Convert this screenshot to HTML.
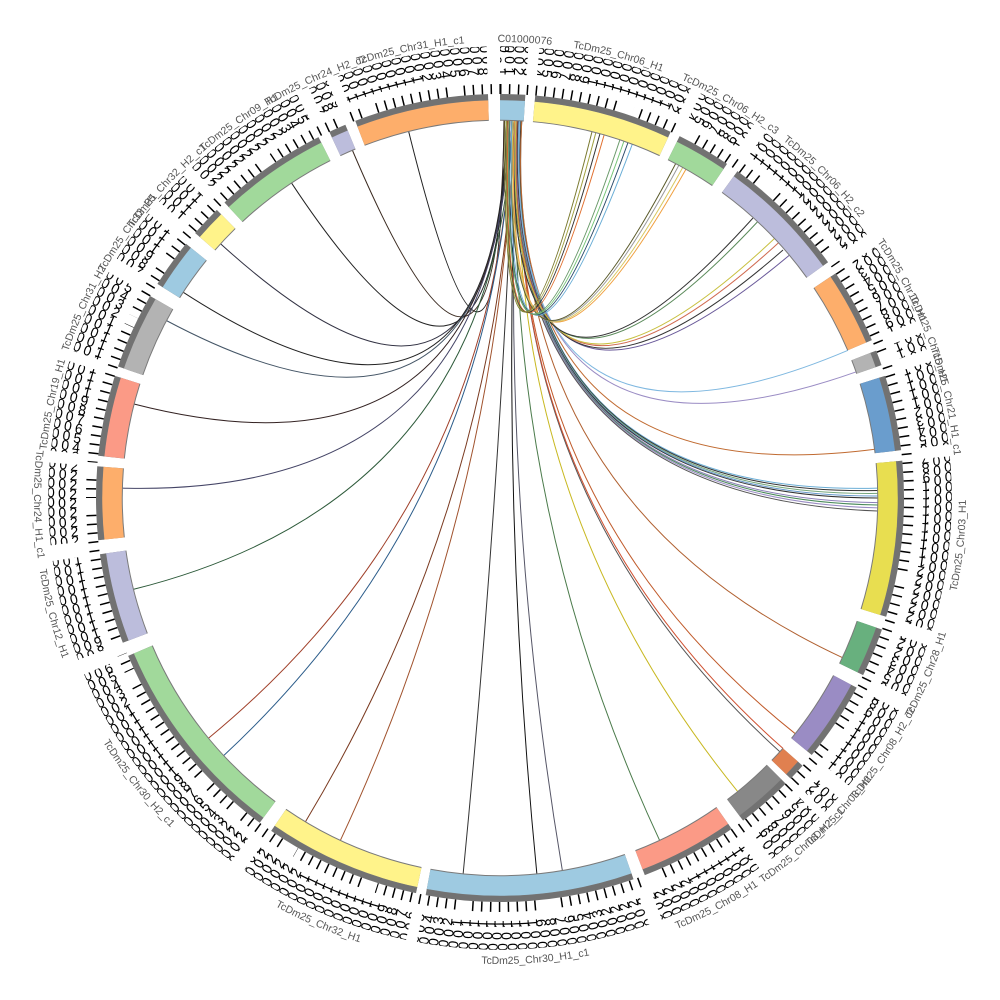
<!DOCTYPE html>
<html><head><meta charset="utf-8"><style>
html,body{margin:0;padding:0;background:#fff;width:1000px;height:1000px;overflow:hidden;}
svg{display:block;overflow:hidden;}
.n{font-family:"Liberation Sans",sans-serif;font-size:14px;fill:#000;}
.lb{font-family:"Liberation Sans",sans-serif;font-size:10.5px;fill:#555;}
.lk path{stroke-width:1px !important;}
</style></head><body>
<svg width="1000" height="1000" viewBox="0 0 1000 1000" xmlns="http://www.w3.org/2000/svg">
<defs>
<g id="arcs" fill="none">
<circle id="a1" fill="none" cx="500" cy="498" r="388" stroke-dasharray="24.4 3000" transform="rotate(-90 500 498)"/>
<circle id="a2" fill="none" cx="500" cy="498" r="388" stroke-dasharray="135.4 3000" transform="rotate(-85 500 498)"/>
<circle id="a3" fill="none" cx="500" cy="498" r="388" stroke-dasharray="52.8 3000" transform="rotate(-63.6 500 498)"/>
<circle id="a4" fill="none" cx="500" cy="498" r="388" stroke-dasharray="123.9 3000" transform="rotate(-54 500 498)"/>
<circle id="a5" fill="none" cx="500" cy="498" r="388" stroke-dasharray="73.1 3000" transform="rotate(-33.8 500 498)"/>
<circle id="a6" fill="none" cx="500" cy="498" r="388" stroke-dasharray="14.9 3000" transform="rotate(-21.4 500 498)"/>
<circle id="a7" fill="none" cx="500" cy="498" r="388" stroke-dasharray="73.1 3000" transform="rotate(-17.6 500 498)"/>
<circle id="a8" fill="none" cx="500" cy="498" r="388" stroke-dasharray="151.7 3000" transform="rotate(-5.3 500 498)"/>
<circle id="a9" fill="none" cx="500" cy="498" r="388" stroke-dasharray="47.4 3000" transform="rotate(19 500 498)"/>
<circle id="a10" fill="none" cx="500" cy="498" r="388" stroke-dasharray="77.9 3000" transform="rotate(28 500 498)"/>
<circle id="a11" fill="none" cx="500" cy="498" r="388" stroke-dasharray="16.9 3000" transform="rotate(41.5 500 498)"/>
<circle id="a12" fill="none" cx="500" cy="498" r="388" stroke-dasharray="54.2 3000" transform="rotate(45 500 498)"/>
<circle id="a13" fill="none" cx="500" cy="498" r="388" stroke-dasharray="94.8 3000" transform="rotate(55 500 498)"/>
<circle id="a14" fill="none" cx="500" cy="498" r="388" stroke-dasharray="202.5 3000" transform="rotate(70.7 500 498)"/>
<circle id="a15" fill="none" cx="500" cy="498" r="388" stroke-dasharray="152.4 3000" transform="rotate(102 500 498)"/>
<circle id="a16" fill="none" cx="500" cy="498" r="388" stroke-dasharray="206.5 3000" transform="rotate(126.5 500 498)"/>
<circle id="a17" fill="none" cx="500" cy="498" r="388" stroke-dasharray="88.0 3000" transform="rotate(159 500 498)"/>
<circle id="a18" fill="none" cx="500" cy="498" r="388" stroke-dasharray="71.1 3000" transform="rotate(174 500 498)"/>
<circle id="a19" fill="none" cx="500" cy="498" r="388" stroke-dasharray="78.6 3000" transform="rotate(186 500 498)"/>
<circle id="a20" fill="none" cx="500" cy="498" r="388" stroke-dasharray="74.5 3000" transform="rotate(199 500 498)"/>
<circle id="a21" fill="none" cx="500" cy="498" r="388" stroke-dasharray="47.4 3000" transform="rotate(212 500 498)"/>
<circle id="a22" fill="none" cx="500" cy="498" r="388" stroke-dasharray="30.5 3000" transform="rotate(221 500 498)"/>
<circle id="a23" fill="none" cx="500" cy="498" r="388" stroke-dasharray="110.4 3000" transform="rotate(227 500 498)"/>
<circle id="a24" fill="none" cx="500" cy="498" r="388" stroke-dasharray="16.9 3000" transform="rotate(245 500 498)"/>
<circle id="a25" fill="none" cx="500" cy="498" r="388" stroke-dasharray="130.7 3000" transform="rotate(249 500 498)"/>
</g>
<mask id="mt" maskUnits="userSpaceOnUse" x="0" y="0" width="1000" height="1000">
<use href="#arcs" fill="none" stroke="#fff" stroke-width="11" transform="translate(500 498) scale(1.0541) translate(-500 -498)"/>
</mask>
<mask id="mn" maskUnits="userSpaceOnUse" x="0" y="0" width="1000" height="1000">
<use href="#arcs" fill="none" stroke="#fff" stroke-width="28" transform="translate(500 498) scale(1.1237) translate(-500 -498)"/>
</mask>
<path id="cw" d="M500,42 A456,456 0 1,1 500,954 A456,456 0 1,1 500,42"/>
<path id="ccw" d="M500,32 A466,466 0 1,0 500,964 A466,466 0 1,0 500,32"/>
<path id="r1" d="M500,72 A426,426 0 1,1 500,924 A426,426 0 1,1 500,72"/>
<path id="r2" d="M500,61 A437,437 0 1,1 500,935 A437,437 0 1,1 500,61"/>
<path id="r3" d="M500,50 A448,448 0 1,1 500,946 A448,448 0 1,1 500,50"/>
</defs>

<!-- links -->
<g class="lk" fill="none" stroke-width="1">
<path d="M504,120 Q500,498 408.6,131.2" stroke="#222"/>
<path d="M504,120 Q500,498 352.3,150" stroke="#3a2a20"/>
<path d="M506.6,120.1 Q500,498 291.4,182.8" stroke="#222"/>
<path d="M506.6,120.1 Q500,498 220.4,243.6" stroke="#334"/>
<path d="M506.6,120.1 Q500,498 182.9,292.1" stroke="#222"/>
<path d="M509.2,120.1 Q500,498 166.3,320.5" stroke="#456"/>
<path d="M509.2,120.1 Q500,498 133.9,404" stroke="#322"/>
<path d="M509.2,120.1 Q500,498 122.1,488.1" stroke="#446"/>
<path d="M511.9,120.2 Q500,498 133.2,589.4" stroke="#2d5a3a"/>
<path d="M511.9,120.2 Q500,498 208.3,738.4" stroke="#a0402a"/>
<path d="M511.9,120.2 Q500,498 223.5,755.8" stroke="#2b5c8a"/>
<path d="M514.5,120.3 Q500,498 305.3,822" stroke="#7a3a20"/>
<path d="M514.5,120.3 Q500,498 340.3,840.6" stroke="#a0522d"/>
<path d="M514.5,120.3 Q500,498 463.1,874.2" stroke="#333"/>
<path d="M517.1,120.4 Q500,498 536.9,874.2" stroke="#111"/>
<path d="M517.1,120.4 Q500,498 562.4,870.8" stroke="#556"/>
<path d="M517.1,120.4 Q500,498 659.7,840.6" stroke="#4a7a4a"/>
<path d="M519.8,120.5 Q500,498 737.9,791.8" stroke="#c8b820"/>
<path d="M519.8,120.5 Q500,498 780,751.9" stroke="#555"/>
<path d="M519.8,120.5 Q500,498 783.1,748.5" stroke="#d05030"/>
<path d="M519.8,120.5 Q500,498 795.4,733.8" stroke="#c05a2a"/>
<path d="M521.8,120.6 Q500,498 842.6,657.7" stroke="#b06030"/>
<path d="M521.8,120.6 Q500,498 877.9,488.1" stroke="#6baed6"/>
<path d="M521,120.6 Q500,498 877.9,490.5" stroke="#333"/>
<path d="M520,120.5 Q500,498 877.97,493.4" stroke="#74a57a"/>
<path d="M519,120.5 Q500,498 878,496" stroke="#6699cc"/>
<path d="M518,120.4 Q500,498 878,498" stroke="#333"/>
<path d="M517,120.4 Q500,498 877.97,502.6" stroke="#8c7fb8"/>
<path d="M516,120.3 Q500,498 877.9,505" stroke="#4a8a5a"/>
<path d="M515,120.3 Q500,498 877.9,507.9" stroke="#9a8cc4"/>
<path d="M513,120.2 Q500,498 877.7,511" stroke="#555"/>
<path d="M521.8,120.6 Q500,498 874.9,449.3" stroke="#c06a30"/>
<path d="M519.8,120.5 Q500,498 856.3,371.8" stroke="#9a8cc4"/>
<path d="M519.8,120.5 Q500,498 848,350.3" stroke="#7fb8e0"/>
<path d="M517.1,120.4 Q500,498 789.6,255" stroke="#6a5a9a"/>
<path d="M517.1,120.4 Q500,498 783,250" stroke="#333"/>
<path d="M517.1,120.4 Q500,498 778.7,242.6" stroke="#d06a50"/>
<path d="M516,120.4 Q500,498 775,238" stroke="#c8c040"/>
<path d="M514.5,120.3 Q500,498 757.8,221.5" stroke="#5a8a5a"/>
<path d="M514.5,120.3 Q500,498 753,218" stroke="#333"/>
<path d="M514.5,120.3 Q500,498 686.1,169" stroke="#f0a040"/>
<path d="M513,120.3 Q500,498 683,167" stroke="#d8c860"/>
<path d="M511.9,120.2 Q500,498 679,165" stroke="#999"/>
<path d="M511.9,120.2 Q500,498 676,163" stroke="#5a5a2a"/>
<path d="M511.9,120.2 Q500,498 632.4,143.9" stroke="#6baed6"/>
<path d="M510,120.2 Q500,498 628,142.5" stroke="#2a4a6a"/>
<path d="M509.2,120.1 Q500,498 624,141" stroke="#74c476"/>
<path d="M509.2,120.1 Q500,498 620,139.5" stroke="#6a9a6a"/>
<path d="M508,120.1 Q500,498 604.2,134.6" stroke="#e07030"/>
<path d="M507,120.1 Q500,498 600,133.5" stroke="#333"/>
<path d="M506.6,120.1 Q500,498 595.9,132.4" stroke="#a0a040"/>
<path d="M505,120.1 Q500,498 592,131.6" stroke="#7a7a30"/>
</g>

<!-- segment outlines + fills -->
<g fill="none">
<use href="#arcs" stroke="#7a7a7a" stroke-width="21.5"/>
<use href="#a1" stroke="#9ecae1" stroke-width="19.5"/>
<use href="#a2" stroke="#fff38a" stroke-width="19.5"/>
<use href="#a3" stroke="#a1d99b" stroke-width="19.5"/>
<use href="#a4" stroke="#bcbddc" stroke-width="19.5"/>
<use href="#a5" stroke="#fdae6b" stroke-width="19.5"/>
<use href="#a6" stroke="#b3b3b3" stroke-width="19.5"/>
<use href="#a7" stroke="#6a9dcd" stroke-width="19.5"/>
<use href="#a8" stroke="#e8de50" stroke-width="19.5"/>
<use href="#a9" stroke="#68b07e" stroke-width="19.5"/>
<use href="#a10" stroke="#9a8cc4" stroke-width="19.5"/>
<use href="#a11" stroke="#e08050" stroke-width="19.5"/>
<use href="#a12" stroke="#888888" stroke-width="19.5"/>
<use href="#a13" stroke="#fb9a86" stroke-width="19.5"/>
<use href="#a14" stroke="#9ecae1" stroke-width="19.5"/>
<use href="#a15" stroke="#fff38a" stroke-width="19.5"/>
<use href="#a16" stroke="#a1d99b" stroke-width="19.5"/>
<use href="#a17" stroke="#bcbddc" stroke-width="19.5"/>
<use href="#a18" stroke="#fdae6b" stroke-width="19.5"/>
<use href="#a19" stroke="#fb9a86" stroke-width="19.5"/>
<use href="#a20" stroke="#b3b3b3" stroke-width="19.5"/>
<use href="#a21" stroke="#9ecae1" stroke-width="19.5"/>
<use href="#a22" stroke="#fff38a" stroke-width="19.5"/>
<use href="#a23" stroke="#a1d99b" stroke-width="19.5"/>
<use href="#a24" stroke="#bcbddc" stroke-width="19.5"/>
<use href="#a25" stroke="#fdae6b" stroke-width="19.5"/>

<!-- grey band -->
<use href="#arcs" stroke="#727272" stroke-width="5.8" transform="translate(500 498) scale(1.03351) translate(-500 -498)"/>
</g>

<!-- ticks -->
<circle cx="500" cy="498" r="409" fill="none" stroke="#000" stroke-width="10" stroke-dasharray="1.5 7.42" transform="rotate(-90 500 498)" mask="url(#mt)"/>

<!-- tick labels -->
<g mask="url(#mn)" class="n">
<text rotate="90" letter-spacing="1.6"><textPath href="#r1">123456789111111111123456789111111111122222222223456789111111111123456789111111111122222222223456789111111111123456789111111111122222222223456789111111111123456789111111111122222222223456789111111111123456789111111111122222222223456789111111111123456789111111111122222222223456789111111111123456789111111111122222222223456789111111111</textPath></text>
<text rotate="90" letter-spacing="1.9"><textPath href="#r2">000000000000000000000000000000000000000000000000000000000000000000000000000000000000000000000000000000000000000000000000000000000000000000000000000000000000000000000000000000000000000000000000000000000000000000000000000000000000000000000000000000000000000000000000000000000000000000000000000000000000000000000000000000</textPath></text>
<text rotate="90" letter-spacing="2.1"><textPath href="#r3">000000000000000000000000000000000000000000000000000000000000000000000000000000000000000000000000000000000000000000000000000000000000000000000000000000000000000000000000000000000000000000000000000000000000000000000000000000000000000000000000000000000000000000000000000000000000000000000000000000000000000000000000000000</textPath></text>
</g>

<!-- names -->
<g class="lb" text-anchor="middle">
<text><textPath href="#cw" startOffset="0.5%">PRFC01000076</textPath></text>
<text><textPath href="#cw" startOffset="4.17%">TcDm25_Chr06_H1</textPath></text>
<text><textPath href="#cw" startOffset="8.42%">TcDm25_Chr06_H2_c3</textPath></text>
<text><textPath href="#cw" startOffset="12.56%">TcDm25_Chr06_H2_c2</textPath></text>
<text><textPath href="#cw" startOffset="17.11%">TcDm25_Chr10_H1</textPath></text>
<text><textPath href="#cw" startOffset="19.36%">TcDm25_Chr15_H1</textPath></text>
<text><textPath href="#cw" startOffset="21.61%">TcDm25_Chr21_H1_c1</textPath></text>
<text><textPath href="#cw" startOffset="78.28%">TcDm25_Chr19_H1</textPath></text>
<text><textPath href="#cw" startOffset="81.81%">TcDm25_Chr31_H2</textPath></text>
<text><textPath href="#cw" startOffset="84.86%">TcDm25_Chr33_H1</textPath></text>
<text><textPath href="#cw" startOffset="87.0%">TcDm25_Chr32_H2_c1</textPath></text>
<text><textPath href="#cw" startOffset="90.33%">TcDm25_Chr09_H1</textPath></text>
<text><textPath href="#cw" startOffset="93.39%">TcDm25_Chr24_H2_c2</textPath></text>
<text><textPath href="#cw" startOffset="96.86%">TcDm25_Chr31_H1_c1</textPath></text>
<text><textPath href="#ccw" startOffset="73.36%">TcDm25_Chr03_H1</textPath></text>
<text><textPath href="#ccw" startOffset="68.75%">TcDm25_Chr28_H1</textPath></text>
<text><textPath href="#ccw" startOffset="65.64%">TcDm25_Chr08_H2_c2</textPath></text>
<text><textPath href="#ccw" startOffset="63.13%">TcDm25_Chr03_H2</textPath></text>
<text><textPath href="#ccw" startOffset="61.39%">TcDm25_Chr08_H2_c1</textPath></text>
<text><textPath href="#ccw" startOffset="57.78%">TcDm25_Chr08_H1</textPath></text>
<text><textPath href="#ccw" startOffset="51.22%">TcDm25_Chr30_H1_c1</textPath></text>
<text><textPath href="#ccw" startOffset="43.56%">TcDm25_Chr32_H1</textPath></text>
<text><textPath href="#ccw" startOffset="35.64%">TcDm25_Chr30_H2_c1</textPath></text>
<text><textPath href="#ccw" startOffset="29.03%">TcDm25_Chr12_H1</textPath></text>
<text><textPath href="#ccw" startOffset="25.22%">TcDm25_Chr24_H1_c1</textPath></text>
</g>
</svg>
</body></html>
